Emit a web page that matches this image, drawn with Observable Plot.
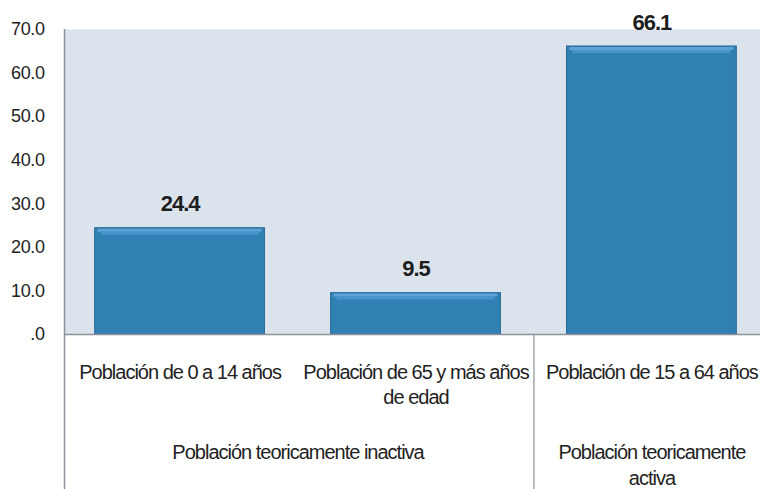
<!DOCTYPE html>
<html>
<head>
<meta charset="utf-8">
<script src="https://cdn.jsdelivr.net/npm/d3@7"></script>
<script src="https://cdn.jsdelivr.net/npm/@observablehq/plot@0.6"></script>
<style>
  html, body { margin: 0; padding: 0; background: #fff; overflow: hidden; }
  #chart svg g[aria-label="text"] text { letter-spacing: -1px; }
  #chart svg g[aria-label="y-axis tick label"] text { letter-spacing: -0.4px; }
</style>
</head>
<body>
<div id="chart"></div>
<script>
// ---- data ----
const categories = [
  "Población de 0 a 14 años",
  "Población de 65 y más años de edad",
  "Población de 15 a 64 años"
];
const categoryLabels = [
  "Población de 0 a 14 años",
  "Población de 65 y más años\nde edad",
  "Población de 15 a 64 años"
];
const values = [24.4, 9.5, 66.1];
const groupNames = ["Población teoricamente inactiva", "Población teoricamente\nactiva"];
const groupMembers = [
  ["Población de 0 a 14 años", "Población de 65 y más años de edad"],
  ["Población de 15 a 64 años"]
];
const yTicks = [0, 10, 20, 30, 40, 50, 60, 70];

// ---- layout ----
const W = 760, H = 489;
const mTop = 29, mBottom = 155, mLeft = 64, mRight = 0;
const xOpts = {type: "band", domain: categories, range: [64, 767], paddingInner: 0.28, paddingOuter: 0.13, round: false};
const xs = Plot.scale({x: xOpts});
const step = xs.step, bw = xs.bandwidth;
const center = c => xs.apply(c) + bw / 2;

const data = categories.map((c, i) => ({category: c, label: categoryLabels[i], value: values[i]}));

const font = "'Liberation Sans', Arial, sans-serif";
const grey = "#8c929a";

const groupMarks = groupNames.map((g, i) => {
  const members = groupMembers[i];
  const mid = d3.mean(members, center);
  return Plot.text([g], {
    x: () => members[0], y: 0, text: d => d,
    dx: mid - center(members[0]), dy: 106,
    lineAnchor: "top", lineHeight: 1.3, textAnchor: "middle",
    fontSize: 20, fill: "#222"
  });
});

// separators at the left edge of each group after the first
const sepCats = groupMembers.slice(1).map(m => m[0]);

const plot = Plot.plot({
  width: W, height: H,
  marginTop: mTop, marginBottom: mBottom, marginLeft: mLeft, marginRight: mRight,
  style: {fontFamily: font, fontSize: "18px", color: "#222", background: "#fff"},
  x: {...xOpts, axis: null},
  y: {domain: [0, 70], ticks: yTicks, tickSize: 0, tickPadding: 20, label: null,
      tickFormat: d => d === 0 ? ".0" : d.toFixed(1)},
  marks: [
    Plot.frame({fill: "#dbe4ed", stroke: null}),
    Plot.barY(data, {x: "category", y: "value", fill: "#3080b4", stroke: "#2a6b99", strokeWidth: 1}),
    Plot.tickY(data, {x: "category", y: "value", stroke: "#5ea3d8", strokeWidth: 3, dy: 2, insetLeft: 3, insetRight: 3}),
    Plot.tickY(data, {x: "category", y: "value", stroke: "#4893ca", strokeWidth: 3, dy: 5, insetLeft: 6, insetRight: 6}),
    Plot.ruleY([0], {stroke: grey, strokeWidth: 1.3}),
    // left axis line spanning full height
    Plot.ruleX([categories[0]], {x: d => d, dx: xOpts.range[0] - center(categories[0]),
      stroke: grey, strokeWidth: 1.5, insetBottom: -mBottom}),
    // group separators
    Plot.ruleX(sepCats, {x: d => d, y1: 0, dx: -step / 2, stroke: grey, strokeWidth: 1.2, insetBottom: -mBottom}),
    // value labels
    Plot.text(data, {x: "category", y: "value", text: d => d.value.toFixed(1), dy: -24,
      fontSize: 22, fontWeight: "bold", fill: "#1e1e1e", lineAnchor: "middle"}),
    // category labels
    Plot.text(data, {x: "category", y: 0, text: "label", dy: 27, lineAnchor: "top", lineHeight: 1.25,
      fontSize: 20, fill: "#222"}),
    ...groupMarks
  ]
});
document.getElementById("chart").appendChild(plot);
</script>
</body>
</html>
